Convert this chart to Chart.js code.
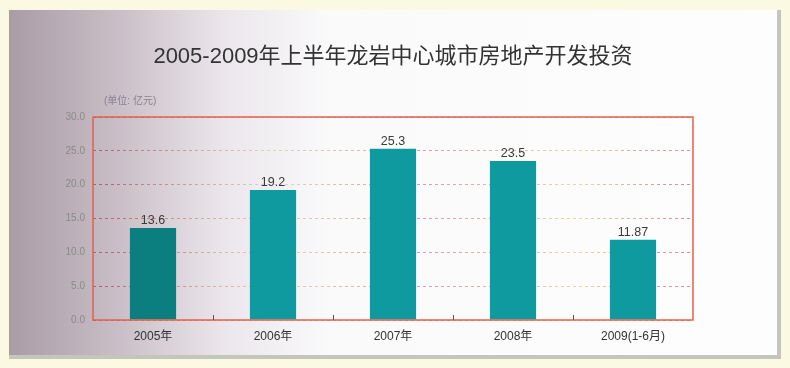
<!DOCTYPE html>
<html>
<head>
<meta charset="utf-8">
<script src="https://cdn.jsdelivr.net/npm/chart.js@4/dist/chart.umd.min.js"></script>
<style>
  html, body { margin: 0; padding: 0; }
  body { width: 790px; height: 368px; background: #fbf9e2; position: relative; overflow: hidden; }
  #panel {
    position: absolute; left: 9px; top: 10px; width: 768px; height: 345px;
    background: linear-gradient(to right, #a99ca6 0%, #c4b8c1 12%, #ebe6ec 28%, #fafafb 42%, #fdfdfd 100%);
    border-right: 4px solid #c4c5bc; border-bottom: 4px solid #c4c5bc;
  }
  #wrap { position: absolute; left: 0; top: 0; width: 790px; height: 368px; }
</style>
</head>
<body>
<div id="panel"></div>
<div id="wrap"><canvas id="bar"></canvas></div>
<script>

// data
const categories = ['2005年', '2006年', '2007年', '2008年', '2009(1-6月)'];
const investment = [13.6, 19.2, 25.3, 23.5, 11.87];
const valueLabels = ['13.6', '19.2', '25.3', '23.5', '11.87'];
const yTicks = [0, 5, 10, 15, 20, 25, 30];

const titleText = '2005-2009年上半年龙岩中心城市房地产开发投资';
const unitText = '(单位: 亿元)';

const FONT = '"Liberation Sans", "Noto Sans CJK SC", sans-serif';

// title, unit, frame, ticks and value labels
const decor = {
  id: 'decor',
  beforeDatasetsDraw(chart) {
    const ctx = chart.ctx;
    ctx.save();
    ctx.fillStyle = '#333';
    ctx.font = '22px ' + FONT;
    ctx.textAlign = 'center';
    ctx.textBaseline = 'middle';
    ctx.fillText(titleText, 393, 57);
    ctx.fillStyle = '#8a8190';
    ctx.font = '10px ' + FONT;
    ctx.textAlign = 'left';
    ctx.fillText(unitText, 104, 101);
    ctx.restore();
  },
  afterDatasetsDraw(chart) {
    const ctx = chart.ctx, a = chart.chartArea;
    ctx.save();
    // plot frame
    ctx.strokeStyle = '#e0624c';
    ctx.lineWidth = 1.5;
    ctx.strokeRect(a.left, a.top, a.right - a.left, a.bottom - a.top);
    // small category ticks
    ctx.strokeStyle = '#555';
    ctx.lineWidth = 1;
    const step = (a.right - a.left) / categories.length;
    for (let i = 1; i < categories.length; i++) {
      const px = Math.round(a.left + step * i) + 0.5;
      ctx.beginPath();
      ctx.moveTo(px, a.bottom);
      ctx.lineTo(px, a.bottom - 5);
      ctx.stroke();
    }
    // value labels
    const meta = chart.getDatasetMeta(0);
    ctx.fillStyle = '#3a3a3a';
    ctx.font = '12.5px ' + FONT;
    ctx.textAlign = 'center';
    ctx.textBaseline = 'bottom';
    meta.data.forEach((bar, i) => {
      ctx.fillText(valueLabels[i], bar.x, bar.y - 1);
    });
    ctx.restore();
  }
};

function gridColor(context) {
  const chart = context.chart, a = chart.chartArea;
  if (!a) return 'rgba(210,90,100,0.6)';
  const g = chart.ctx.createLinearGradient(a.left, 0, a.right, 0);
  g.addColorStop(0, 'rgba(200,60,75,0.8)');
  g.addColorStop(0.3, 'rgba(235,200,120,0.7)');
  g.addColorStop(0.55, 'rgba(225,100,150,0.7)');
  g.addColorStop(0.8, 'rgba(235,205,110,0.75)');
  g.addColorStop(1, 'rgba(215,90,110,0.75)');
  return g;
}

const data = {
  labels: categories,
  datasets: [
    {
      label: '投资',
      data: investment,
      backgroundColor: ['#0b7f80', '#0f9aa0', '#0f9aa0', '#0f9aa0', '#0f9aa0'],
      borderWidth: 0,
      categoryPercentage: 1,
      barPercentage: 0.385
    }
  ]
};

const config = {
  type: 'bar',
  data: data,
  options: {
    responsive: false,
    animation: false,
    layout: { padding: { left: 50, right: 97, top: 117, bottom: 20 } },
    plugins: {
      legend: { display: false },
      title: { display: false },
      tooltip: { enabled: false }
    },
    scales: {
      x: {
        grid: { display: false },
        border: { display: false },
        ticks: { color: '#333', font: { size: 12, family: FONT }, padding: 1 },
        afterFit(scale) { scale.height = 28; }
      },
      y: {
        min: 0,
        max: 30,
        afterBuildTicks(scale) { scale.ticks = yTicks.map(v => ({ value: v })); },
        grid: { color: gridColor, lineWidth: 1, drawTicks: false },
        border: { display: false, dash: [3, 3] },
        ticks: {
          color: '#8a8a8a',
          font: { size: 10, family: FONT },
          padding: 8,
          callback: v => v.toFixed(1)
        },
        afterFit(scale) { scale.width = 43; }
      }
    }
  },
  plugins: [decor]
};

document.addEventListener('DOMContentLoaded', function () {
  const cv = document.getElementById('bar');
  cv.width = 790;
  cv.height = 368;
  new Chart(cv.getContext('2d'), config);
});
</script>
</body>
</html>
